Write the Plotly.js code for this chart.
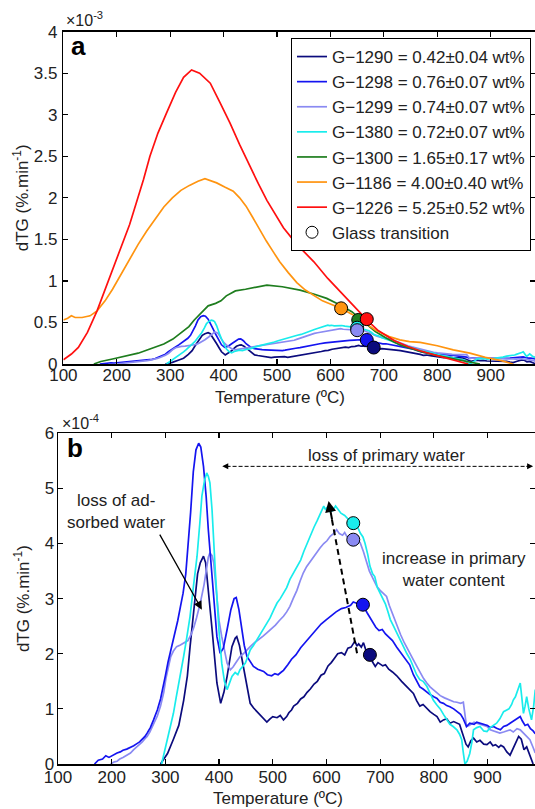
<!DOCTYPE html>
<html>
<head>
<meta charset="utf-8">
<script src="https://cdn.plot.ly/plotly-3.0.1.min.js"></script>
<style>html,body{margin:0;padding:0;background:#fff}#chart{width:535px;height:809px}</style>
</head>
<body>
<div id="chart"></div>
<script>
// ---------- DATA ----------
// Low-water samples, dTG in units of 1e-4 %.min^-1 (panel b); panel a shows them in 1e-3 units.
const g1290T = [291,304,315,325,334,341,346,351,355,360,365,371,375,381,387,392,396,403,409,415,420,424,430,433,438,442,447,452,458,464,470,476,480,485,489,495,500,508,514,520,526,530,535,539,546,552,558,564,570,577,583,590,596,603,609,615,621,628,634,640,646,653,657,660,665,669,674,678,682,686,691,696,700,705,710,716,723,731,740,748,755,762,768,774,780,787,793,800,806,812,818,824,830,837,843,848,852,855,860,864,869,874,880,886,893,899,905,910,915,921,925,930,936,942,948,954,958,963,968,973,979,985];
const g1290V = [0,0.19,0.45,0.7,1.15,1.6,2.13,2.6,3.04,3.45,3.65,3.77,3.65,3.1,2.44,1.9,1.47,1.1,1.3,1.59,1.9,2.13,2.28,2.31,2.15,1.95,1.7,1.47,1.1,1.02,0.96,0.9,0.86,0.8,0.76,0.82,0.86,0.84,0.88,0.8,0.86,0.93,0.98,1.05,1.1,1.18,1.22,1.3,1.36,1.45,1.5,1.61,1.64,1.78,1.84,1.92,2.0,2.02,1.98,2.1,2.12,2.23,2.14,2.18,2.12,2.2,2.05,2.0,1.95,1.85,1.77,1.84,1.82,1.78,1.8,1.72,1.67,1.6,1.5,1.42,1.36,1.28,1.15,1.05,1.08,1.0,0.95,0.9,0.86,0.76,0.8,0.82,0.74,0.77,0.74,0.72,0.6,0.5,0.36,0.31,0.42,0.47,0.4,0.43,0.36,0.35,0.4,0.33,0.35,0.3,0.34,0.31,0.22,0.16,0.3,0.41,0.5,0.45,0.26,0.31,0.15,0];

const g1298T = [168,175,183,189,195,202,210,216,221,228,235,241,247,252,257,262,266,272,278,285,291,296,300,305,310,316,323,328,333,338,343,347,352,357,362,366,371,376,380,385,390,396,402,408,415,422,428,432,437,442,447,452,458,464,472,478,483,490,498,504,510,515,520,528,535,543,552,560,570,580,590,600,610,618,628,636,645,650,655,660,668,676,685,692,698,704,710,716,723,731,740,748,755,762,768,774,780,787,793,800,806,812,818,824,830,837,843,850,855,861,867,875,880,886,893,900,905,911,917,924,930,936,942,948,955,961,965,970,975,980,985,989];
const g1298V = [0,0.07,0.09,0.15,0.12,0.16,0.2,0.22,0.25,0.27,0.3,0.33,0.37,0.4,0.45,0.5,0.56,0.66,0.8,0.98,1.18,1.45,1.6,1.85,2.05,2.3,2.6,2.85,3.1,3.45,4.0,4.56,5.3,5.7,5.82,5.75,5.4,4.85,4.25,3.6,3.04,2.31,2.01,2.1,2.44,2.8,3.0,3.02,2.8,2.44,2.15,1.95,1.85,1.77,1.72,1.7,1.68,1.62,1.6,1.64,1.62,1.66,1.7,1.8,1.9,1.98,2.11,2.2,2.32,2.44,2.54,2.62,2.7,2.76,2.82,2.84,2.88,2.94,2.92,2.9,2.88,2.74,2.6,2.48,2.42,2.44,2.36,2.3,2.24,2.12,2.0,1.9,1.8,1.62,1.5,1.4,1.36,1.3,1.26,1.22,1.19,1.12,1.1,1.06,1.04,1.0,0.96,0.9,0.82,0.68,0.74,0.72,0.76,0.74,0.72,0.7,0.66,0.68,0.65,0.62,0.68,0.7,0.74,0.78,0.82,0.86,0.78,0.7,0.72,0.64,0.6,0.55];

const g1299T = [198,205,210,215,221,228,235,241,247,252,257,262,266,271,276,281,285,291,297,301,305,310,315,321,328,335,342,348,353,358,365,372,377,380,383,387,390,393,396,400,405,410,415,421,426,430,435,439,445,452,458,466,475,482,489,497,505,512,520,526,532,538,545,551,557,563,570,576,582,588,595,601,607,613,619,624,630,634,638,644,650,656,663,669,675,680,685,690,694,700,706,712,717,722,727,731,738,745,752,758,762,768,775,781,787,793,800,806,812,820,828,837,843,850,855,858,861,866,870,875,880,886,893,899,905,910,917,923,930,936,942,948,955,961,967,973,979,985,989];
const g1299V = [0,0.04,0.05,0.09,0.12,0.16,0.2,0.26,0.31,0.35,0.4,0.46,0.5,0.58,0.68,0.78,0.87,1.05,1.3,1.55,1.75,1.95,2.05,2.13,2.16,2.2,2.24,2.35,2.48,2.65,2.92,3.25,3.53,3.75,3.83,3.78,3.65,3.3,2.92,2.6,2.31,2.05,1.83,1.71,1.76,1.82,1.9,1.95,2.0,2.08,2.13,2.2,2.26,2.32,2.38,2.45,2.52,2.6,2.68,2.76,2.86,3.0,3.15,3.32,3.47,3.58,3.68,3.76,3.83,3.92,4.0,4.05,4.13,4.18,4.25,4.18,4.15,4.2,4.13,4.1,4.07,4.1,4.01,3.85,3.65,3.5,3.4,3.3,3.22,3.15,3.1,3.04,2.88,2.75,2.62,2.5,2.35,2.2,2.06,1.95,1.89,1.78,1.65,1.55,1.47,1.4,1.34,1.29,1.24,1.2,1.16,1.13,1.12,1.1,1.12,0.9,0.68,0.7,0.72,0.76,0.74,0.72,0.7,0.68,0.62,0.6,0.58,0.56,0.58,0.6,0.62,0.58,0.64,0.62,0.56,0.5,0.44,0.3,0.2];

const g1380T = [293,296,300,305,310,315,320,325,330,334,340,346,352,356,359,364,368,373,377,380,383,387,390,393,396,400,405,410,415,420,424,430,435,439,444,449,454,458,464,470,476,483,489,495,502,508,514,520,526,532,538,545,552,558,564,570,577,583,590,595,598,602,607,612,617,621,627,634,640,645,653,658,663,668,672,677,681,686,690,695,700,705,710,714,719,725,731,737,743,750,756,762,768,774,780,787,793,799,805,812,818,824,830,836,843,848,852,855,858,862,867,871,874,880,886,893,899,905,910,917,923,930,936,940,945,948,952,955,958,961,964,967,970,973,977,982,986,989];
const g1380V = [0,0.13,0.3,0.5,0.72,0.92,1.2,1.45,1.72,1.95,2.3,2.68,3.2,3.5,3.77,4.35,4.86,5.15,5.28,5.22,5.1,4.6,3.95,3.5,3.04,2.4,1.83,1.5,1.35,1.5,1.59,1.66,1.62,1.71,1.78,1.83,1.96,2.07,2.15,2.25,2.33,2.44,2.54,2.65,2.8,2.92,3.0,3.1,3.2,3.35,3.46,3.56,3.7,3.86,4.01,4.15,4.3,4.42,4.57,4.68,4.62,4.66,4.58,4.6,4.68,4.63,4.55,4.51,4.45,4.42,4.39,4.3,4.19,4.12,4.0,3.8,3.59,3.45,3.4,3.2,3.1,3.02,2.9,2.78,2.62,2.5,2.38,2.25,2.12,2.0,1.9,1.77,1.62,1.53,1.5,1.41,1.28,1.16,1.08,1.0,0.9,0.8,0.72,0.68,0.62,0.54,0.44,0.2,0.0,0.05,0.19,0.4,0.62,0.66,0.68,0.6,0.59,0.66,0.7,0.74,0.82,0.95,0.98,1.0,1.08,1.16,1.22,1.3,1.38,1.47,1.2,0.92,1.05,1.22,1.0,0.8,1.05,1.35];

// High-water samples, dTG in units of 1e-3 %.min^-1 (panel a only)
const g1300T = [157,170,192,218,240,262,288,305,320,335,345,360,371,385,395,405,422,441,460,481,510,543,570,593,618,640,658,670,684,705,730,768,800,840,880];
const g1300V = [0,0.03,0.06,0.1,0.13,0.18,0.24,0.3,0.37,0.45,0.53,0.63,0.7,0.73,0.76,0.82,0.88,0.9,0.92,0.95,0.93,0.89,0.84,0.79,0.71,0.63,0.53,0.46,0.39,0.31,0.23,0.15,0.1,0.05,0];

const g1186T = [100,108,115,122,135,150,163,178,192,208,224,240,256,272,288,304,320,336,352,365,375,387,402,418,430,442,454,467,480,493,505,521,537,553,569,585,601,620,640,660,684,710,730,748,768,800,830,861,890,920,942];
const g1186V = [0.53,0.55,0.58,0.56,0.56,0.58,0.64,0.76,0.9,1.08,1.27,1.44,1.6,1.75,1.89,2.0,2.09,2.15,2.2,2.23,2.21,2.18,2.13,2.08,2.0,1.9,1.77,1.62,1.48,1.35,1.23,1.1,0.98,0.89,0.82,0.76,0.72,0.67,0.6,0.51,0.41,0.33,0.29,0.27,0.26,0.22,0.17,0.13,0.08,0.04,0];

const g1226T = [100,115,128,145,163,178,192,208,224,237,250,262,277,293,310,325,340,355,375,393,412,430,449,465,481,497,512,537,569,595,620,646,670,690,720,745,768,800,830,858];
const g1226V = [0.05,0.12,0.2,0.38,0.64,0.9,1.15,1.42,1.68,1.95,2.22,2.5,2.78,3.02,3.27,3.45,3.54,3.5,3.38,3.15,2.9,2.64,2.38,2.17,1.97,1.8,1.64,1.44,1.23,1.03,0.86,0.68,0.52,0.4,0.28,0.21,0.16,0.1,0.05,0];

const seriesNames = ['G\u22121290 = 0.42\u00b10.04 wt%','G\u22121298 = 0.76\u00b10.07 wt%','G\u22121299 = 0.74\u00b10.07 wt%','G\u22121380 = 0.72\u00b10.07 wt%','G\u22121300 = 1.65\u00b10.17 wt%','G\u22121186 = 4.00\u00b10.40 wt%','G\u22121226 = 5.25\u00b10.52 wt%'];
const seriesColors = ['#0b0b7d','#1414f0','#8a8af2','#19ecec','#1e7d1e','#ff9410','#ff1010'];

// Glass transition points (T in °C; value in 1e-3 units for panel a)
// order: G-1290, G-1298, G-1299, G-1380, G-1300, G-1186, G-1226
const glassT   = [681,668,650,650,652,620,668];
const glassV   = [0.198,0.289,0.407,0.437,0.53,0.67,0.54];

const xTicks = [100,200,300,400,500,600,700,800,900];

// ---------- PLOT ----------
const W = 535, H = 809;
const px = x => x / W, py = y => 1 - y / H;
const FONT = 'Liberation Sans, Arial, Helvetica, sans-serif';
const TXT = '#222';

const lowT = [g1290T,g1298T,g1299T,g1380T];
const lowV = [g1290V,g1298V,g1299V,g1380V];
const allT = [g1290T,g1298T,g1299T,g1380T,g1300T,g1186T,g1226T];
const allVa = [g1290V.map(v=>v/10),g1298V.map(v=>v/10),g1299V.map(v=>v/10),g1380V.map(v=>v/10),g1300V,g1186V,g1226V];

const traces = [];
for (let i = 0; i < 7; i++) {
  traces.push({x: allT[i], y: allVa[i], type:'scatter', mode:'lines', name: seriesNames[i],
    line:{color: seriesColors[i], width:1.7}, xaxis:'x', yaxis:'y', showlegend:true, hoverinfo:'skip'});
}
traces.push({x:[null], y:[null], type:'scatter', mode:'markers', name:'Glass transition',
  marker:{symbol:'circle', size:12, color:'#ffffff', line:{color:'#000', width:1}}, xaxis:'x', yaxis:'y', showlegend:true});
// panel a glass-transition markers
[5,4,3,2,1,0,6].forEach(i => {
  traces.push({x:[glassT[i]], y:[glassV[i]], type:'scatter', mode:'markers', showlegend:false,
    marker:{size:13, color: seriesColors[i], line:{color:'#000', width:1}}, xaxis:'x', yaxis:'y', hoverinfo:'skip'});
});
// panel b
[0,2,1,3].forEach(i => {
  traces.push({x: lowT[i], y: lowV[i], type:'scatter', mode:'lines', showlegend:false,
    line:{color: seriesColors[i], width:1.7}, xaxis:'x2', yaxis:'y2', hoverinfo:'skip'});
});
[3,2,1,0].forEach(i => {
  traces.push({x:[glassT[i]], y:[glassV[i]*10], type:'scatter', mode:'markers', showlegend:false,
    marker:{size:13, color: seriesColors[i], line:{color:'#000', width:1}}, xaxis:'x2', yaxis:'y2', hoverinfo:'skip'});
});

const axisCommon = {showline:true, linecolor:'#000', linewidth:1.5, mirror:'ticks', ticks:'inside',
  ticklen:5, tickwidth:1.2, tickcolor:'#000', showgrid:false, zeroline:false,
  tickfont:{family:FONT, size:17, color:TXT}, automargin:false};

function txt(text, x, y, size, extra) {
  return Object.assign({text:text, xref:'paper', yref:'paper', x:px(x), y:py(y), xanchor:'center', yanchor:'middle',
    showarrow:false, font:{family:FONT, size:size, color:TXT}}, extra || {});
}

const layout = {
  width: W, height: H, margin:{l:0,r:0,t:0,b:0}, paper_bgcolor:'#fff', plot_bgcolor:'#fff',
  font:{family:FONT, size:17, color:TXT},
  xaxis: Object.assign({}, axisCommon, {domain:[px(63.4),1], range:[100,983], tickvals:xTicks, anchor:'y', ticklabelstandoff:-5}),
  yaxis: Object.assign({}, axisCommon, {domain:[py(364),py(31.7)], range:[0,4], dtick:0.5, anchor:'x',
    ticklabelstandoff:1, title:{text:'dTG (%.min<sup>-1</sup>)', font:{family:FONT,size:17,color:TXT}, standoff:1}}),
  xaxis2: Object.assign({}, axisCommon, {domain:[px(58),1], range:[100,988.5], tickvals:xTicks, anchor:'y2', ticklabelstandoff:-3}),
  yaxis2: Object.assign({}, axisCommon, {domain:[py(764),py(433.3)], range:[0,6], dtick:1, anchor:'x2',
    ticklabelstandoff:-1, title:{text:'dTG (%.min<sup>-1</sup>)', font:{family:FONT,size:17,color:TXT}, standoff:10}}),
  legend:{x:px(531), xanchor:'right', y:py(38), yanchor:'top', bordercolor:'#000', borderwidth:1,
    bgcolor:'#fff', font:{family:FONT, size:17, color:TXT}, tracegroupgap:0},
  shapes:[
    {type:'line', xref:'x2', yref:'y2', x0:414, x1:978, y0:5.4, y1:5.4, line:{color:'#000', width:1, dash:'4px,2px'}},
    {type:'line', xref:'x2', yref:'y2', x0:657, y0:2.01, x1:609, y1:4.5, line:{color:'#000', width:2, dash:'6px,4px'}}
  ],
  annotations:[
    txt('<b>a</b>', 78, 46, 26, {font:{family:FONT,size:26,color:'#000'}}),
    txt('<b>b</b>', 75, 448, 26, {font:{family:FONT,size:26,color:'#000'}}),
    txt('\u00d710<sup>-3</sup>', 64, 19, 16, {xanchor:'left'}),
    txt('\u00d710<sup>-4</sup>', 60, 422, 16, {xanchor:'left'}),
    txt('Temperature (\u00baC)', 280, 397, 17),
    txt('Temperature (\u00baC)', 278, 798, 17),
    txt('loss of primary water', 386, 455, 17),
    txt('loss of ad-<br>sorbed water', 116, 511, 17),
    txt('increase in primary<br>water content', 454, 569, 17),
    // arrows
    {text:'', xref:'x2', yref:'y2', x:368, y:2.8, axref:'x2', ayref:'y2', ax:288, ay:4.19, showarrow:true, arrowhead:2, arrowsize:1.3, arrowwidth:1.3, arrowcolor:'#000'},
    {text:'', xref:'x2', yref:'y2', x:406, y:5.4, axref:'x2', ayref:'y2', ax:420, ay:5.4, showarrow:true, arrowhead:2, arrowsize:1.2, arrowwidth:1, arrowcolor:'#000'},
    {text:'', xref:'x2', yref:'y2', x:985, y:5.4, axref:'x2', ayref:'y2', ax:970, ay:5.4, showarrow:true, arrowhead:2, arrowsize:1.2, arrowwidth:1, arrowcolor:'#000'},
    {text:'', xref:'x2', yref:'y2', x:604, y:4.77, axref:'x2', ayref:'y2', ax:611, ay:4.41, showarrow:true, arrowhead:2, arrowsize:1.1, arrowwidth:2, arrowcolor:'#000'}
  ]
};

Plotly.newPlot('chart', traces, layout, {staticPlot:true, displayModeBar:false});
</script>
</body>
</html>
